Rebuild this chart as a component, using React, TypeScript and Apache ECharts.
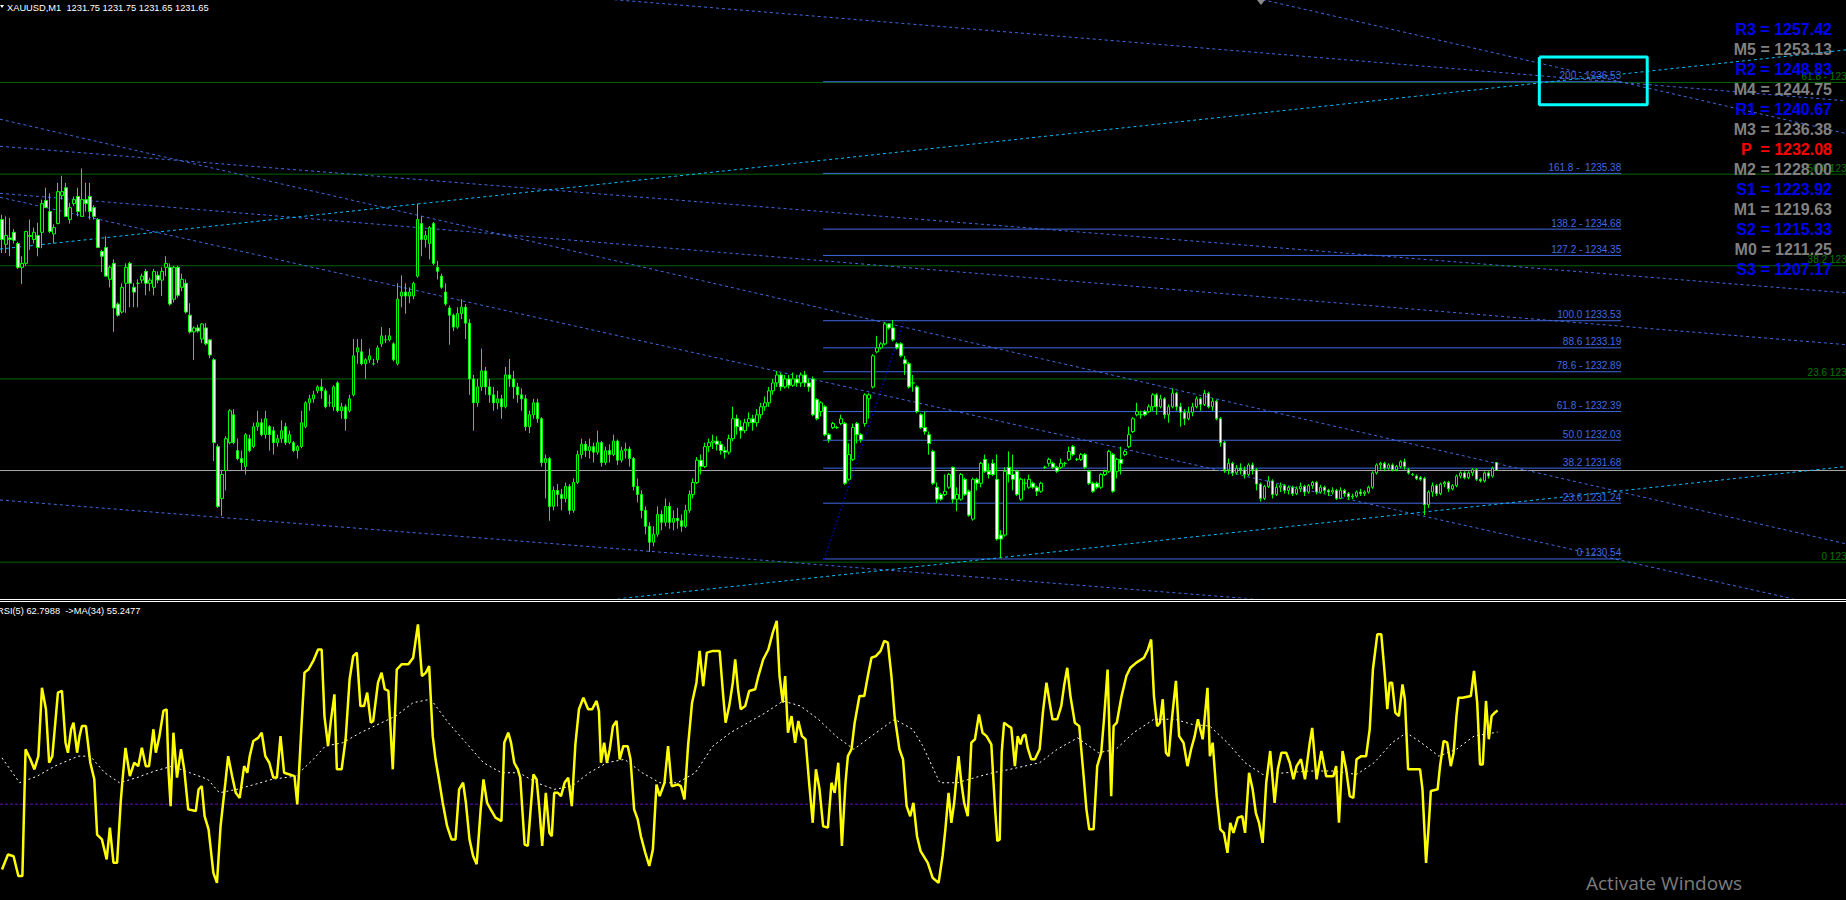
import React, { useEffect, useRef } from 'react';
import * as echarts from 'echarts';

const TITLE = 'XAUUSD,M1  1231.75 1231.75 1231.65 1231.65';
const RSI_LABEL = 'RSI(5) 62.7988  ->MA(34) 55.2477';
const WATERMARK = 'Activate Windows';

const SLOTS = 462;
const PRICE_MIN = 1230.05;
const PRICE_MAX = 1237.556;
const BID = 1231.65;

// candles: [open, close, low, high]
const candles: number[][] = [
[1234.80,1234.55,1234.38,1234.86],[1234.49,1234.60,1234.38,1234.84],[1234.57,1234.55,1234.34,1234.82],[1234.64,1234.54,1234.50,1234.68],
[1234.50,1234.20,1234.18,1234.52],[1234.20,1234.25,1233.99,1234.34],[1234.25,1234.65,1234.22,1234.66],[1234.60,1234.59,1234.42,1234.80],
[1234.55,1234.64,1234.50,1234.70],[1234.60,1234.45,1234.34,1234.76],[1234.64,1235.00,1234.44,1235.05],[1235.04,1234.95,1234.95,1235.20],
[1234.90,1234.65,1234.63,1235.13],[1234.62,1234.70,1234.50,1234.74],[1234.75,1235.15,1234.74,1235.26],[1235.10,1235.15,1235.05,1235.35],
[1235.20,1234.84,1234.84,1235.26],[1234.80,1234.95,1234.75,1235.01],[1235.00,1235.05,1234.97,1235.09],[1235.09,1234.90,1234.84,1235.20],
[1234.84,1235.05,1234.84,1235.44],[1235.05,1235.00,1234.90,1235.26],[1235.09,1234.90,1234.80,1235.26],[1234.95,1234.84,1234.80,1234.98],
[1234.80,1234.45,1234.45,1234.82],[1234.40,1234.34,1234.14,1234.42],[1234.45,1234.09,1234.09,1234.59],[1234.05,1234.20,1233.95,1234.22],
[1234.25,1233.69,1233.39,1234.30],[1233.74,1233.60,1233.58,1233.76],[1233.64,1233.95,1233.62,1234.00],[1234.00,1234.20,1233.63,1234.25],
[1234.25,1234.00,1233.70,1234.27],[1233.95,1233.89,1233.70,1234.00],[1234.00,1234.00,1233.70,1234.05],[1234.04,1234.09,1234.00,1234.12],
[1234.15,1234.00,1233.85,1234.18],[1234.00,1234.04,1233.90,1234.07],[1233.95,1234.15,1233.85,1234.18],[1234.10,1234.04,1234.00,1234.15],
[1234.04,1234.15,1233.84,1234.20],[1234.20,1234.25,1234.09,1234.34],[1234.20,1233.74,1233.72,1234.25],[1233.80,1234.20,1233.76,1234.22],
[1234.20,1233.85,1233.82,1234.22],[1233.95,1234.05,1233.90,1234.12],[1234.00,1233.64,1233.62,1234.05],[1233.60,1233.39,1233.37,1233.75],
[1233.39,1233.44,1233.04,1233.46],[1233.44,1233.40,1233.38,1233.48],[1233.30,1233.49,1233.25,1233.50],[1233.44,1233.24,1233.22,1233.50],
[1233.29,1233.10,1233.06,1233.30],[1233.04,1232.00,1231.77,1233.06],[1231.95,1231.20,1231.18,1231.98],[1231.30,1231.60,1231.08,1231.66],
[1231.65,1232.05,1231.40,1232.08],[1232.00,1232.40,1231.98,1232.42],[1232.35,1232.00,1231.98,1232.42],[1231.90,1231.80,1231.78,1232.05],
[1231.80,1231.75,1231.65,1231.90],[1231.70,1232.10,1231.60,1232.12],[1232.05,1231.90,1231.88,1232.10],[1231.95,1232.20,1231.93,1232.25],
[1232.20,1232.25,1232.15,1232.40],[1232.25,1232.10,1232.08,1232.30],[1232.10,1232.30,1232.05,1232.40],[1232.20,1232.10,1231.90,1232.22],
[1232.15,1232.00,1231.85,1232.20],[1232.00,1232.05,1231.95,1232.10],[1232.05,1232.15,1232.00,1232.28],[1232.20,1232.00,1231.97,1232.25],
[1232.00,1232.10,1231.98,1232.15],[1232.00,1231.90,1231.88,1232.02],[1231.90,1231.95,1231.80,1231.97],[1231.95,1232.25,1231.93,1232.40],
[1232.20,1232.50,1232.18,1232.52],[1232.50,1232.55,1232.40,1232.60],[1232.55,1232.60,1232.50,1232.65],[1232.65,1232.70,1232.62,1232.72],
[1232.70,1232.65,1232.55,1232.80],[1232.65,1232.45,1232.43,1232.68],[1232.50,1232.50,1232.45,1232.60],[1232.45,1232.70,1232.40,1232.72],
[1232.75,1232.40,1232.38,1232.77],[1232.40,1232.45,1232.30,1232.50],[1232.45,1232.30,1232.15,1232.48],[1232.40,1232.55,1232.38,1232.60],
[1232.60,1233.09,1232.58,1233.30],[1233.14,1233.19,1232.99,1233.30],[1233.14,1232.99,1232.97,1233.30],[1232.99,1233.04,1232.80,1233.06],
[1233.04,1233.09,1233.00,1233.18],[1232.99,1232.99,1232.97,1233.05],[1233.04,1233.19,1233.00,1233.22],[1233.24,1233.34,1233.20,1233.45],
[1233.29,1233.29,1233.25,1233.35],[1233.29,1233.34,1233.27,1233.44],[1233.24,1233.04,1233.02,1233.26],[1232.99,1233.80,1232.97,1234.00],
[1233.84,1233.89,1233.70,1234.10],[1233.89,1233.84,1233.62,1234.00],[1233.84,1233.89,1233.75,1233.95],[1233.84,1234.00,1233.80,1234.02],
[1234.09,1234.80,1234.07,1235.00],[1234.75,1234.55,1234.34,1234.84],[1234.55,1234.60,1234.45,1234.66],[1234.50,1234.70,1234.30,1234.72],
[1234.75,1234.25,1234.23,1234.77],[1234.20,1234.15,1234.05,1234.28],[1234.09,1233.95,1233.93,1234.12],[1233.89,1233.74,1233.72,1234.00],
[1233.69,1233.60,1233.23,1233.72],[1233.60,1233.45,1233.40,1233.62],[1233.45,1233.62,1233.43,1233.70],[1233.62,1233.70,1233.55,1233.80],
[1233.70,1233.50,1233.30,1233.74],[1233.50,1232.80,1232.60,1233.55],[1232.80,1232.50,1232.15,1232.85],[1232.50,1232.70,1232.45,1232.80],
[1232.70,1232.90,1232.65,1233.18],[1232.90,1232.70,1232.60,1232.95],[1232.70,1232.60,1232.50,1232.80],[1232.60,1232.50,1232.40,1232.70],
[1232.50,1232.55,1232.42,1232.65],[1232.55,1232.45,1232.30,1232.60],[1232.45,1232.85,1232.43,1232.95],[1232.85,1232.80,1232.70,1233.05],
[1232.80,1232.70,1232.55,1232.90],[1232.70,1232.60,1232.50,1232.75],[1232.60,1232.55,1232.40,1232.68],[1232.55,1232.20,1232.15,1232.60],
[1232.20,1232.35,1232.12,1232.40],[1232.35,1232.50,1232.30,1232.55],[1232.50,1232.30,1232.25,1232.55],[1232.30,1231.75,1231.70,1232.32],
[1231.75,1231.80,1231.30,1231.85],[1231.80,1231.20,1231.02,1231.82],[1231.20,1231.40,1231.15,1231.45],[1231.40,1231.35,1231.20,1231.48],
[1231.35,1231.30,1231.15,1231.42],[1231.30,1231.45,1231.25,1231.50],[1231.45,1231.15,1231.10,1231.48],[1231.15,1231.50,1231.12,1231.55],
[1231.50,1231.85,1231.48,1231.90],[1231.85,1231.98,1231.80,1232.05],[1231.98,1231.90,1231.82,1232.02],[1231.90,1231.95,1231.80,1232.05],
[1231.95,1231.88,1231.75,1232.00],[1231.88,1232.00,1231.85,1232.15],[1232.00,1231.75,1231.70,1232.02],[1231.75,1231.90,1231.72,1231.95],
[1231.90,1231.85,1231.75,1231.98],[1231.85,1232.02,1231.83,1232.10],[1232.02,1231.78,1231.72,1232.04],[1231.78,1231.90,1231.75,1231.95],
[1231.90,1231.92,1231.80,1232.00],[1231.92,1231.80,1231.70,1231.95],[1231.80,1231.45,1231.40,1231.82],[1231.45,1231.35,1231.25,1231.55],
[1231.35,1231.15,1231.05,1231.40],[1231.15,1230.95,1230.85,1231.20],[1230.95,1230.75,1230.63,1231.00],[1230.75,1230.85,1230.70,1230.95],
[1230.85,1231.10,1230.82,1231.20],[1231.10,1231.00,1230.90,1231.15],[1231.00,1231.20,1230.95,1231.30],[1231.20,1231.00,1230.92,1231.25],
[1231.00,1231.05,1230.90,1231.15],[1231.05,1231.02,1230.92,1231.18],[1231.02,1230.95,1230.88,1231.10],[1230.95,1231.15,1230.93,1231.22],
[1231.15,1231.35,1231.12,1231.40],[1231.35,1231.50,1231.30,1231.55],[1231.50,1231.78,1231.48,1231.82],[1231.78,1231.70,1231.60,1231.85],
[1231.70,1231.95,1231.68,1232.00],[1231.95,1232.00,1231.88,1232.05],[1232.00,1232.02,1231.92,1232.10],[1232.02,1231.98,1231.90,1232.08],
[1231.98,1231.90,1231.85,1232.02],[1231.90,1231.88,1231.80,1231.95],[1231.88,1232.05,1231.85,1232.10],[1232.05,1232.30,1232.02,1232.45],
[1232.30,1232.20,1232.10,1232.35],[1232.20,1232.15,1232.05,1232.28],[1232.15,1232.25,1232.12,1232.30],[1232.25,1232.30,1232.20,1232.38],
[1232.30,1232.25,1232.15,1232.35],[1232.25,1232.35,1232.20,1232.42],[1232.35,1232.45,1232.30,1232.50],[1232.45,1232.50,1232.40,1232.58],
[1232.50,1232.65,1232.45,1232.70],[1232.65,1232.75,1232.60,1232.80],[1232.75,1232.85,1232.70,1232.90],[1232.85,1232.70,1232.65,1232.88],
[1232.70,1232.80,1232.68,1232.85],[1232.80,1232.72,1232.68,1232.85],[1232.72,1232.80,1232.70,1232.88],[1232.80,1232.75,1232.70,1232.85],
[1232.75,1232.85,1232.70,1232.88],[1232.85,1232.75,1232.70,1232.90],[1232.75,1232.70,1232.64,1232.80],[1232.80,1232.35,1232.33,1232.83],
[1232.54,1232.30,1232.28,1232.56],[1232.39,1232.50,1232.33,1232.52],[1232.45,1232.10,1232.08,1232.47],[1232.10,1232.04,1232.00,1232.12],
[1232.19,1232.24,1232.17,1232.26],[1232.19,1232.19,1232.17,1232.21],[1232.24,1232.30,1232.22,1232.35],[1232.24,1231.49,1231.47,1232.26],
[1231.54,1231.85,1231.52,1231.99],[1231.79,1232.19,1231.77,1232.24],[1232.24,1232.10,1231.99,1232.26],[1232.10,1232.04,1232.00,1232.12],
[1232.24,1232.60,1232.20,1232.62],[1232.55,1232.60,1232.30,1232.62],[1232.70,1233.09,1232.68,1233.11],[1233.14,1233.19,1233.12,1233.34],
[1233.19,1233.24,1233.17,1233.26],[1233.24,1233.49,1233.22,1233.51],[1233.49,1233.44,1233.42,1233.50],[1233.44,1233.29,1233.27,1233.54],
[1233.24,1233.19,1233.17,1233.26],[1233.24,1233.09,1233.07,1233.26],[1233.04,1232.99,1232.85,1233.09],[1232.99,1232.70,1232.68,1233.01],
[1232.75,1232.75,1232.64,1232.85],[1232.70,1232.39,1232.37,1232.72],[1232.35,1232.19,1232.17,1232.37],[1232.19,1232.14,1232.10,1232.39],
[1232.10,1231.99,1231.85,1232.14],[1231.89,1231.49,1231.47,1231.91],[1231.44,1231.29,1231.24,1231.50],[1231.35,1231.29,1231.27,1231.37],
[1231.35,1231.39,1231.33,1231.60],[1231.44,1231.60,1231.42,1231.62],[1231.69,1231.29,1231.24,1231.70],[1231.29,1231.35,1231.14,1231.44],
[1231.29,1231.60,1231.27,1231.62],[1231.54,1231.35,1231.33,1231.56],[1231.39,1231.09,1231.07,1231.41],[1231.04,1231.54,1231.02,1231.56],
[1231.54,1231.49,1231.40,1231.56],[1231.49,1231.74,1231.44,1231.76],[1231.79,1231.64,1231.62,1231.85],[1231.64,1231.60,1231.55,1231.74],
[1231.74,1231.60,1231.58,1231.79],[1231.54,1230.79,1230.77,1231.85],[1230.84,1230.79,1230.55,1230.90],[1230.84,1231.64,1230.82,1231.69],
[1231.69,1231.60,1231.50,1231.89],[1231.60,1231.54,1231.40,1231.85],[1231.64,1231.35,1231.33,1231.66],[1231.29,1231.54,1231.27,1231.56],
[1231.49,1231.49,1231.40,1231.55],[1231.44,1231.54,1231.42,1231.60],[1231.49,1231.44,1231.42,1231.51],[1231.44,1231.39,1231.33,1231.46],
[1231.39,1231.49,1231.37,1231.51],[1231.69,1231.69,1231.67,1231.71],[1231.74,1231.79,1231.70,1231.81],[1231.74,1231.69,1231.67,1231.76],
[1231.69,1231.64,1231.62,1231.71],[1231.69,1231.74,1231.67,1231.80],[1231.74,1231.74,1231.70,1231.76],[1231.79,1231.89,1231.77,1231.95],
[1231.95,1231.85,1231.83,1231.97],[1231.79,1231.79,1231.77,1231.81],[1231.79,1231.85,1231.77,1231.87],[1231.85,1231.69,1231.67,1231.87],
[1231.64,1231.49,1231.47,1231.66],[1231.49,1231.39,1231.37,1231.51],[1231.49,1231.44,1231.42,1231.51],[1231.44,1231.60,1231.42,1231.62],
[1231.60,1231.64,1231.58,1231.66],[1231.64,1231.89,1231.62,1231.91],[1231.85,1231.39,1231.37,1231.87],[1231.64,1231.79,1231.55,1231.81],
[1231.79,1231.74,1231.60,1231.95],[1231.85,1231.89,1231.83,1231.91],[1231.95,1232.10,1231.93,1232.20],[1232.14,1232.30,1232.12,1232.32],
[1232.35,1232.39,1232.33,1232.50],[1232.35,1232.35,1232.30,1232.40],[1232.39,1232.35,1232.33,1232.41],[1232.39,1232.45,1232.37,1232.48],
[1232.45,1232.60,1232.40,1232.62],[1232.60,1232.45,1232.35,1232.62],[1232.45,1232.55,1232.43,1232.60],[1232.55,1232.35,1232.30,1232.57],
[1232.35,1232.45,1232.25,1232.48],[1232.45,1232.62,1232.43,1232.68],[1232.62,1232.45,1232.40,1232.64],[1232.45,1232.38,1232.20,1232.50],
[1232.38,1232.30,1232.22,1232.42],[1232.30,1232.38,1232.28,1232.45],[1232.38,1232.45,1232.33,1232.50],[1232.45,1232.55,1232.43,1232.58],
[1232.55,1232.48,1232.40,1232.57],[1232.48,1232.62,1232.46,1232.66],[1232.62,1232.45,1232.43,1232.64],[1232.45,1232.52,1232.40,1232.56],
[1232.52,1232.30,1232.28,1232.54],[1232.30,1232.00,1231.95,1232.32],[1232.00,1231.66,1231.62,1232.02],[1231.66,1231.74,1231.60,1231.80],
[1231.74,1231.62,1231.58,1231.76],[1231.62,1231.68,1231.60,1231.72],[1231.68,1231.66,1231.60,1231.74],[1231.66,1231.60,1231.55,1231.70],
[1231.60,1231.72,1231.58,1231.74],[1231.72,1231.66,1231.60,1231.75],[1231.66,1231.48,1231.40,1231.68],[1231.48,1231.30,1231.26,1231.50],
[1231.30,1231.45,1231.28,1231.47],[1231.45,1231.52,1231.43,1231.58],[1231.52,1231.35,1231.30,1231.54],[1231.35,1231.44,1231.33,1231.48],
[1231.44,1231.46,1231.38,1231.50],[1231.46,1231.40,1231.36,1231.48],[1231.40,1231.44,1231.35,1231.46],[1231.44,1231.36,1231.33,1231.46],
[1231.36,1231.42,1231.34,1231.45],[1231.42,1231.45,1231.38,1231.50],[1231.45,1231.38,1231.33,1231.47],[1231.38,1231.46,1231.36,1231.48],
[1231.46,1231.50,1231.42,1231.52],[1231.50,1231.38,1231.35,1231.52],[1231.38,1231.44,1231.36,1231.47],[1231.44,1231.40,1231.36,1231.46],
[1231.40,1231.38,1231.33,1231.42],[1231.38,1231.40,1231.35,1231.44],[1231.40,1231.30,1231.28,1231.42],[1231.30,1231.40,1231.29,1231.44],
[1231.40,1231.36,1231.32,1231.42],[1231.36,1231.32,1231.28,1231.38],[1231.32,1231.33,1231.29,1231.36],[1231.33,1231.38,1231.31,1231.40],
[1231.38,1231.36,1231.33,1231.42],[1231.36,1231.38,1231.33,1231.40],[1231.38,1231.44,1231.36,1231.46],[1231.44,1231.62,1231.42,1231.64],
[1231.62,1231.72,1231.60,1231.74],[1231.72,1231.74,1231.66,1231.76],[1231.74,1231.68,1231.64,1231.76],[1231.68,1231.72,1231.66,1231.74],
[1231.72,1231.66,1231.64,1231.74],[1231.66,1231.70,1231.64,1231.72],[1231.70,1231.76,1231.68,1231.78],[1231.76,1231.70,1231.66,1231.80],
[1231.66,1231.62,1231.60,1231.68],[1231.60,1231.60,1231.58,1231.62],[1231.58,1231.55,1231.53,1231.60],[1231.56,1231.54,1231.52,1231.58],
[1231.55,1231.22,1231.09,1231.57],[1231.22,1231.38,1231.18,1231.40],[1231.38,1231.46,1231.32,1231.50],[1231.46,1231.36,1231.33,1231.48],
[1231.36,1231.48,1231.34,1231.50],[1231.48,1231.50,1231.44,1231.52],[1231.50,1231.42,1231.38,1231.52],[1231.42,1231.46,1231.40,1231.48],
[1231.46,1231.58,1231.44,1231.60],[1231.58,1231.62,1231.55,1231.64],[1231.62,1231.56,1231.54,1231.64],[1231.56,1231.62,1231.54,1231.64],
[1231.62,1231.66,1231.58,1231.68],[1231.66,1231.54,1231.52,1231.68],[1231.54,1231.52,1231.50,1231.56],[1231.52,1231.62,1231.50,1231.64],
[1231.62,1231.58,1231.55,1231.64],[1231.58,1231.68,1231.56,1231.70],[1231.75,1231.65,1231.65,1231.75]
];

// RSI(5) as [bar, value]
const rsiPoints: number[][] = [
[0,7.2],[1.5,12.4],[2.9,11.8],[4.1,4.9],[5.1,4.9],[5.9,49.2],[7.1,45.7],[8.1,42.2],[9.1,46.8],[10,70.7],[11,63.2],[11.8,44.5],[12.6,46.8],[14,69],[15,69.6],[15.9,51.5],[16.5,48],[17.3,56.2],[17.9,58.5],[18.8,48],[19.4,53.8],[20,57.3],[21,57.3],[22.1,44.5],[23.1,38.7],[23.8,19.4],[25,17.7],[26.2,10.7],[27,21.8],[27.9,9.5],[28.8,9.5],[29.7,30.5],[30.1,37.5],[30.9,49.7],[32,39.8],[33.1,44.5],[34.1,43.3],[35,49.7],[36,43.3],[36.8,43.3],[37.9,56.2],[38.5,48],[39.4,53.8],[40.4,62.6],[41.2,63.2],[41.7,41],[42.2,29.3],[42.9,55],[43.8,39.3],[44.8,49.2],[45.6,42.2],[46.6,28.2],[48.5,27.6],[49.2,35.2],[50,36.3],[50.7,25.8],[51.7,21.2],[52.9,6],[53.8,2.5],[54.7,22.3],[55.9,37.5],[56.6,46.8],[57.6,39.8],[58.5,34],[59.5,32.2],[60.6,43.3],[61.4,41],[62,46.8],[62.9,52.1],[64.1,53.2],[65,55],[65.9,46.8],[66.9,44.5],[67.9,39.3],[68.8,39.3],[69.7,53.8],[70.6,41],[72,40.4],[73.2,39.8],[73.9,29.9],[75,58.5],[75.7,76],[76.7,77.1],[77.9,80.1],[79.1,84.1],[80,84.1],[80.7,60.8],[81.6,50.3],[82.3,59.1],[83.2,68.4],[83.8,42.2],[85,42.2],[86,52.7],[87,73.7],[87.9,81.8],[88.8,83],[89.7,64.3],[90.6,64.3],[91.4,69],[92.3,58.5],[92.9,59.1],[94.1,72.5],[95,76],[95.8,70.2],[96.7,69.6],[97.8,42.2],[98.8,77.1],[100,78.9],[101.7,78.9],[102.9,81.2],[104.1,92.9],[105.1,74.8],[106.1,76],[106.9,78.3],[107.8,53.8],[108.5,45.7],[109.5,37.5],[110.3,30.5],[111.4,22.3],[112.5,17.7],[113.5,17.7],[114.4,35.2],[115.4,37.5],[116.1,30.5],[117,17.7],[117.9,11.9],[118.8,9],[119.8,28.2],[120.5,38.7],[121.4,30.5],[122.3,28.2],[123.5,25.3],[125,24.1],[125.7,51.5],[126.7,55],[127.4,51.5],[128.2,44.5],[129.1,42.2],[129.7,39.3],[130.8,15.9],[131.6,15.4],[132.3,28.2],[133,40.4],[133.8,38.7],[134.5,28.2],[135.2,15.4],[136.1,34],[137,20],[137.6,18.8],[138.2,34],[139.1,34],[139.9,32.8],[140.8,37.5],[141.7,39.3],[142.6,29.3],[143.5,50.9],[144.4,63.2],[145.5,67.2],[146.7,63.2],[147.7,63.2],[148.8,66.1],[149.4,62.6],[149.9,44.5],[150.7,51.5],[151.4,44.5],[152.1,49.2],[152.9,57.3],[153.8,59.1],[154.6,45.7],[155.5,50.3],[156.6,50.3],[157.3,45.7],[158.2,28.2],[159.1,24.7],[159.9,18.8],[161,13],[162,8.4],[162.9,14.2],[163.8,36.9],[164.6,32.8],[165.8,37.5],[166.7,50.3],[167.6,36.3],[169.1,36.9],[169.9,36.3],[170.8,31.7],[171.7,50.3],[172.7,65.5],[173.8,72.5],[174.6,83.6],[175.5,71.3],[176.4,83],[177.9,83.6],[179.6,83.6],[180.5,67.8],[181.1,58.5],[182,64.3],[182.9,72.5],[183.5,80.6],[184.2,70.2],[184.9,63.2],[186,64.3],[187,69.6],[188.5,70.2],[189.3,74.8],[190.5,80.6],[191.8,84.1],[192.9,90],[193.9,94.1],[194.6,74.8],[195.4,65.5],[196,74.8],[196.7,55],[197.6,60.8],[198.5,51.5],[199.3,59.1],[200.2,53.8],[201.1,52.7],[202,37.5],[202.9,23.5],[203.7,42.2],[204.6,35.2],[205.5,22.3],[206.7,21.8],[207.6,37.5],[208.4,34],[209.3,44.5],[210.2,15.4],[211.1,37.5],[211.7,46.8],[212.6,49.2],[213.4,58.5],[214.6,67.8],[215.8,67.8],[216.7,74.8],[217.6,81.2],[218.7,81.8],[219.9,83.6],[220.8,87.1],[221.7,86.5],[222.6,74.8],[223.4,60.8],[224.6,49.2],[225.5,45.7],[226.4,29.3],[227.3,25.8],[228.1,30.5],[229,18.8],[229.9,13.6],
[231.7,9.5],[232.9,4.3],[234.4,2.5],[235.4,11.9],[236.1,21.2],[236.9,34],[237.6,23.5],[238.3,30.5],[239.4,46.8],[240.1,37.5],[240.8,30.5],[241.7,25.8],[242.6,51.5],[243.5,52.7],[244.5,61.4],[245.4,55],[246.4,53.8],[247.6,50.9],[248.5,29.3],[249.1,17.1],[249.7,17.7],[250.2,48],[250.8,58.5],[251.9,57.3],[252.6,56.7],[253.5,43.3],[254.2,53.8],[254.9,50.9],[255.5,53.8],[256.1,54.4],[256.7,49.7],[257.6,45.7],[258.5,45.7],[259.7,49.2],[260.5,62],[261.4,72.5],[262.2,65.5],[262.9,59.7],[264.1,59.7],[265.1,64.3],[265.8,71.3],[266.6,77.7],[267.4,67.8],[268.5,58.5],[269.6,57.3],[270.7,39.8],[271.4,28.2],[272.1,21.2],[273.2,21.2],[274.1,43.3],[275.1,48],[275.8,59.7],[276.7,77.1],[277,63.2],[277.6,32.8],[278.2,57.3],[279,58.5],[280.2,67.8],[281.4,74.8],[282.4,77.7],[283.9,79.5],[285.8,81.2],[286.8,84.1],[287.6,87.6],[288.3,67.8],[289.1,57.3],[289.8,58.5],[290.5,66.7],[291.3,48],[292,46.8],[292.7,58.5],[293.8,73.1],[294.6,53.8],[295.7,51.5],[296.7,43.3],[297.6,49.2],[298.5,53.8],[299.3,59.7],[300.5,52.7],[301.7,70.7],[302.3,46.8],[303,51.5],[304,32.8],[304.9,21.2],[305.8,20],[306.7,13],[307.4,23.5],[308.2,20],[309.3,25.3],[310.4,25.8],[311.1,20],[312.1,41],[313,35.2],[313.8,27],[314.6,23.5],[315.5,16.5],[316.4,37.5],[317.4,48.6],[318.5,30.5],[319.3,42.2],[320.2,48],[321.4,48],[322.3,44.5],[323.2,38.7],[324,43.3],[325.1,45.7],[326.1,38.7],[327.3,51.5],[327.9,56.7],[329,38.7],[330.2,48.6],[331.4,39.8],[333.2,39.8],[333.9,43.3],[334.6,23.5],[335.5,48.6],[336.4,42.2],[337.3,32.8],[338.2,32.2],[339,45.7],[340.2,46.8],[341.4,46.8],[342.3,56.2],[343.1,77.1],[344.2,89.4],[345.2,89.4],[346.1,74.8],[346.7,63.2],[347.3,72.5],[347.9,72.5],[348.7,62],[349.6,60.8],[350.5,71.9],[351.1,66.7],[351.9,42.2],[353.1,42.2],[354.9,42.2],[355.5,35.2],[356.4,9.5],[357,21.2],[357.6,34.6],[359.3,35.2],[359.9,43.3],[360.8,52.1],[361.7,51.5],[362.6,43.3],[363.3,48],[364,60.8],[364.5,67.2],[365.5,67.2],[367.6,67.8],[368.4,76.6],[369.2,65.5],[369.9,43.9],[370.6,43.9],[371.4,66.1],[372.1,52.7],[372.8,60.8],[373.6,62],[374.3,62.8]
];

// MA(34) of RSI as [bar, value]
const maPoints: number[][] = [
[0,46.2],[4.4,37.5],[8.8,39.8],[13.2,43.3],[19.1,46.8],[22.1,46.8],[25.7,41],[29.4,37.5],[33.8,39.3],[38.2,41.6],[42.6,43.3],[47,41],[51.5,38.7],[54.4,34],[58.8,35.2],[63.2,36.9],[67.6,38.7],[73.5,39.8],[77.9,45.7],[80.9,50.3],[85.3,51.5],[89.7,55],[94.1,57.9],[98.5,60.8],[102.9,65.5],[107.3,66.7],[111.7,58.5],[116.1,51.5],[120.5,44.5],[125,41],[129.4,41],[133.8,37.5],[138.2,35.2],[142.6,36.3],[147,41],[151.4,44.5],[155.8,45.7],[160.2,41],[164.6,37.5],[169.1,37.5],[173.5,41],[177.9,50.3],[182.3,55],[186.7,58.5],[191.1,62],[195.5,66.1],[199.9,64.3],[204.3,59.7],[208.7,53.8],[213.2,49.2],[217.6,53.8],[223.4,59.7],[227.9,56.2],[230.4,50.5],[234.7,37.5],[239.1,37.5],[243.5,39.3],[247.9,41],[252.3,42.2],[259.7,44.5],[264.1,49.2],[269.2,53.2],[274.4,48],[278.8,49.2],[283.2,55],[288.3,59.7],[293.5,59.7],[297.9,57.9],[302.3,57.3],[306.7,51.5],[311.1,44.5],[315.5,40.4],[321.4,41],[327.3,41.6],[333.2,41.6],[339,40.4],[343.4,44.5],[347.9,51.5],[351.5,55],[355.2,51.5],[359.6,46.8],[364,49.2],[368.4,53.8],[374.3,55.2]
];

const RSI_LEVEL = 30;

// blue Fibonacci retracement
const blueFibSpan = [205.5, 405.25];
const blueFibPrices = [1236.53, 1235.38, 1234.68, 1234.35, 1233.53, 1233.19, 1232.89, 1232.39, 1232.03, 1231.68, 1231.24, 1230.54];
const blueFibTexts = ['200 - 1236.53', '161.8 -  1235.38', '138.2 - 1234.68', '127.2 - 1234.35', '100.0 1233.53', '88.6 1233.19', '78.6 - 1232.89', '61.8 - 1232.39', '50.0 1232.03', '38.2 1231.68', '23.6 1231.24', '0 1230.54'];
const fibAnchor = [[205.75, 1230.53], [225.75, 1233.53]];

// green Fibonacci (full width)
const greenFibPrices = [1236.52, 1235.37, 1234.22, 1232.80, 1230.50];
const greenFibTexts = ['61.8 - 1236.52', '50.0 1235.37', '38.2 1234.22', '23.6 1232.80', '0 1230.50'];

// dotted trend lines: [[bar, price], [bar, price]]
const blueTrends = [
  [[-0.5, 1236.06], [461.5, 1230.73]],
  [[-0.5, 1235.72], [461.5, 1233.88]],
  [[-0.5, 1235.13], [461.5, 1233.23]],
  [[-0.5, 1235.08], [461.5, 1229.89]],
  [[-0.5, 1231.28], [461.5, 1229.45]],
  [[153.25, 1237.56], [461.5, 1236.29]],
  [[315.5, 1237.56], [461.5, 1235.88]],
];
const cyanTrends = [
  [[-0.5, 1234.43], [461.5, 1236.93]],
  [[152.5, 1230.03], [461.5, 1231.70]],
];
const boxCorners = [[384.75, 1236.84], [411.75, 1236.84], [411.75, 1236.24], [384.75, 1236.24], [384.75, 1236.84]];

// pivot table
const pivotNames = ['R3', 'M5', 'R2', 'M4', 'R1', 'M3', 'P ', 'M2', 'S1', 'M1', 'S2', 'M0', 'S3'];
const pivotValues = ['1257.42', '1253.13', '1248.83', '1244.75', '1240.67', '1236.38', '1232.08', '1228.00', '1223.92', '1219.63', '1215.33', '1211.25', '1207.17'];

const FONT = '"Liberation Sans", Arial, sans-serif';

function pivotColor(n: string) {
  if (n.startsWith('P')) return '#ff0000';
  if (n.startsWith('M')) return '#808080';
  return '#0000f0';
}

export default function App() {
  const ref = useRef<HTMLDivElement>(null);
  useEffect(() => {
    if (!ref.current) return;
    const chart = echarts.init(ref.current, null, { renderer: 'svg' });
    const slots = Array.from({ length: SLOTS }, (_, i) => String(i));
    const seg = (data: any, color: string, width: number, type: any, z = 2) => ({
      type: 'line', xAxisIndex: 1, yAxisIndex: 0, data, symbol: 'none', silent: true, z,
      lineStyle: { color, width, type }, animation: false,
    });
    const series: any[] = [];
    greenFibPrices.forEach((p) => series.push(seg([[-0.5, p], [461.5, p]], '#006400', 1, 'solid', 1)));
    blueFibPrices.forEach((p) => series.push(seg([[blueFibSpan[0], p], [blueFibSpan[1], p]], '#4169e1', 1, 'solid', 2)));
    series.push(seg([[-0.5, BID], [461.5, BID]], '#a8a8a8', 1, 'solid', 2));
    blueTrends.forEach((t) => series.push(seg(t, '#4169e1', 1, [3, 3], 2)));
    cyanTrends.forEach((t) => series.push(seg(t, '#00bfff', 1, [3, 3], 2)));
    series.push(seg(fibAnchor, '#0000cd', 1, [2, 2], 2));
    series.push(seg(boxCorners, '#00ffff', 3, 'solid', 6));
    series.push({
      type: 'candlestick', xAxisIndex: 0, yAxisIndex: 0, data: candles, barWidth: 3, silent: true, z: 4,
      itemStyle: { color: '#000000', color0: '#ffffff', borderColor: '#00ff00', borderColor0: '#00ff00', borderWidth: 1 },
    });
    series.push({
      type: 'line', xAxisIndex: 2, yAxisIndex: 1, data: [[-0.5, RSI_LEVEL], [461.5, RSI_LEVEL]], symbol: 'none', silent: true,
      lineStyle: { color: '#6010c0', width: 1, type: [3, 2] },
    });
    series.push({
      type: 'line', xAxisIndex: 2, yAxisIndex: 1, data: maPoints, symbol: 'none', silent: true,
      lineStyle: { color: '#ffffff', width: 1, type: [2, 3] },
    });
    series.push({
      type: 'line', xAxisIndex: 2, yAxisIndex: 1, data: rsiPoints, symbol: 'none', silent: true, z: 3,
      lineStyle: { color: '#ffff00', width: 2.5 },
    });

    chart.setOption({
      animation: false,
      backgroundColor: '#000000',
      grid: [
        { left: 0, top: 0, width: 1846, height: 598 },
        { left: 0, top: 604, width: 1846, height: 286 },
      ],
      xAxis: [
        { type: 'category', gridIndex: 0, data: slots, boundaryGap: true, show: false },
        { type: 'value', gridIndex: 0, min: -0.5, max: 461.5, show: false },
        { type: 'value', gridIndex: 1, min: -0.5, max: 461.5, show: false },
      ],
      yAxis: [
        { type: 'value', gridIndex: 0, min: PRICE_MIN, max: PRICE_MAX, show: false, splitLine: { show: false } },
        { type: 'value', gridIndex: 1, min: 0, max: 100, show: false, splitLine: { show: false } },
      ],
      series,
    });

    const toPx = (x: number, y: number) => chart.convertToPixel({ xAxisIndex: 1, yAxisIndex: 0 } as any, [x, y]) as number[];
    const g: any[] = [];
    blueFibPrices.forEach((p, i) => {
      const pt = toPx(blueFibSpan[1], p);
      g.push({ type: 'text', x: pt[0], y: pt[1] - 1, z: 50, silent: true,
        style: { text: blueFibTexts[i], fill: '#4169e1', font: `10px ${FONT}`, align: 'right', verticalAlign: 'bottom' } });
    });
    greenFibPrices.forEach((p, i) => {
      const pt = toPx(466.5, p);
      g.push({ type: 'text', x: pt[0], y: pt[1] - 1, z: 50, silent: true,
        style: { text: greenFibTexts[i], fill: '#007800', font: `10px ${FONT}`, align: 'right', verticalAlign: 'bottom' } });
    });
    pivotNames.forEach((n, i) => {
      g.push({ type: 'text', x: 1832, y: 29 + 20 * i, z: 60, silent: true,
        style: { text: `${n} = ${pivotValues[i]}`, fill: pivotColor(n), font: `bold 16px ${FONT}`, align: 'right', verticalAlign: 'middle' } });
    });
    g.push({ type: 'polygon', z: 60, silent: true, shape: { points: [[0, 5], [4, 5], [2, 8]] }, style: { fill: '#ffffff' } });
    g.push({ type: 'text', x: 7, y: 8, z: 60, silent: true,
      style: { text: TITLE, fill: '#ffffff', font: `9.3px ${FONT}`, align: 'left', verticalAlign: 'middle' } });
    g.push({ type: 'polygon', z: 60, silent: true, shape: { points: [[1257, 0], [1265, 0], [1261, 5]] }, style: { fill: '#8a8a8a' } });
    g.push({ type: 'line', z: 60, silent: true, shape: { x1: 0, y1: 599.5, x2: 1846, y2: 599.5 }, style: { stroke: '#ffffff', lineWidth: 1 } });
    g.push({ type: 'line', z: 60, silent: true, shape: { x1: 0, y1: 601.5, x2: 1846, y2: 601.5 }, style: { stroke: '#ffffff', lineWidth: 1 } });
    g.push({ type: 'text', x: -3, y: 611, z: 60, silent: true,
      style: { text: RSI_LABEL, fill: '#ffffff', font: `9.3px ${FONT}`, align: 'left', verticalAlign: 'middle' } });
    g.push({ type: 'text', x: 1586, y: 883, z: 60, silent: true,
      style: { text: WATERMARK, fill: '#7c7c7c', font: `19px "Open Sans", sans-serif`, align: 'left', verticalAlign: 'middle' } });
    chart.setOption({ graphic: g });

    return () => chart.dispose();
  }, []);
  return <div ref={ref} style={{ position: 'fixed', left: 0, top: 0, width: 1846, height: 900, background: '#000' }} />;
}
